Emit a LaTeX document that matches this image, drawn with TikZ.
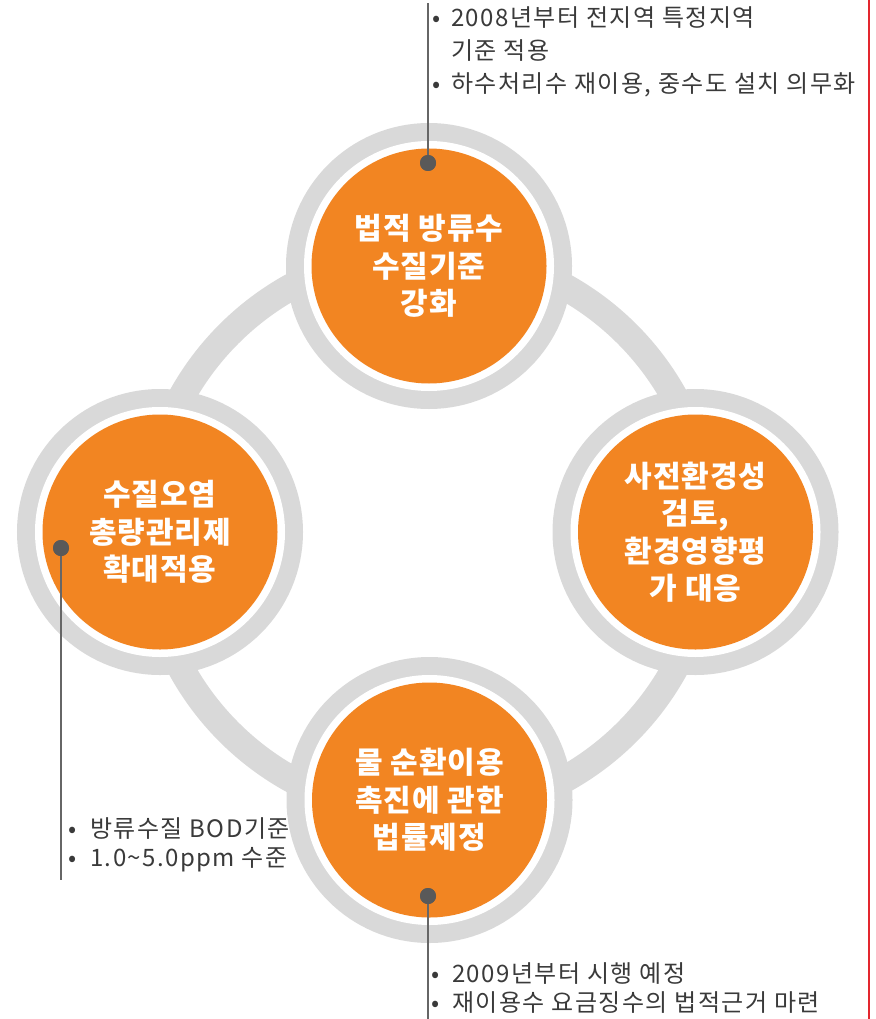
\documentclass[tikz,border=0pt]{standalone}
\usepackage{fontspec}
\setmainfont{Noto Sans CJK KR}
\newfontfamily\notefont[LetterSpace=6]{Noto Sans CJK KR}
\newfontfamily\bubfont[LetterSpace=3]{Noto Sans CJK KR}
\definecolor{org}{HTML}{F28522}
\definecolor{ringgray}{HTML}{D9D9D9}
\definecolor{dotgray}{HTML}{595959}
\definecolor{leadgray}{HTML}{666666}
\definecolor{txtgray}{HTML}{3A3A3A}
\definecolor{redline}{HTML}{E3262E}
\begin{document}
\begin{tikzpicture}[x=1pt,y=-1pt,
  bubble/.style={circle, minimum size=235pt, inner sep=0pt, fill=org,
    preaction={draw=ringgray, line width=51pt},
    preaction={draw=white, line width=15pt},
    text=white, align=center, font=\bubfont\fontsize{30}{37.5}\selectfont\bfseries},
  dot/.style={circle, fill=dotgray, minimum size=16pt, inner sep=0pt},
  lead/.style={draw=leadgray, line width=1.6pt},
  note/.style={anchor=base west, inner sep=0pt, text=txtgray, font=\notefont\fontsize{24}{32}\selectfont},
  bul/.style={anchor=base, inner sep=0pt, text=txtgray, font=\notefont\fontsize{24}{32}\selectfont}]
\useasboundingbox (0,0) rectangle (875,1019);
% connecting ring
\draw[ringgray, line width=27pt] (428,533) circle[radius=281.5];
% bubbles
\node[bubble] (top) at (429,266) {법적 방류수\\수질기준\\강화};
\node[bubble] (left) at (160,532) {수질오염\\총량관리제\\확대적용};
\node[bubble] (right) at (695.5,532) {사전환경성\\검토,\\환경영향평\\가 대응};
\node[bubble] (bottom) at (429.5,800) {물 순환이용\\촉진에 관한\\법률제정};
% leaders
\coordinate (tend) at (428,3);
\coordinate (lend) at (61,880);
\coordinate (bend) at (428,1019);
\node[dot] (tdot) at (428,163) {};
\node[dot] (ldot) at (61,548) {};
\node[dot] (bdot) at (428,896) {};
\draw[lead] (tdot.center) -- (tend);
\draw[lead] (ldot.center) -- (lend);
\draw[lead] (bdot.center) -- (bend);
\node[dot] at (tdot) {};
\node[dot] at (ldot) {};
\node[dot] at (bdot) {};
% top notes
\node[bul] (tb1) at (437,27) {•};
\node[note] (t1) at (451,27) {2008년부터 전지역 특정지역};
\node[note] (t2) at (451,60) {기준 적용};
\node[bul] (tb3) at (437,93) {•};
\node[note] (t3) at (451,93) {하수처리수 재이용, 중수도 설치 의무화};
% left notes
\node[bul] (lb1) at (73,837) {•};
\node[note] (l1) at (90,837) {방류수질 BOD기준};
\node[bul] (lb2) at (73,866) {•};
\node[note] (l2) at (90,866) {1.0\textasciitilde 5.0ppm 수준};
% bottom notes
\node[bul] (bb1) at (436,982) {•};
\node[note] (b1) at (452,982) {2009년부터 시행 예정};
\node[bul] (bb2) at (436,1011) {•};
\node[note] (b2) at (452,1011) {재이용수 요금징수의 법적근거 마련};
% red line
\coordinate (r1) at (869,0);
\coordinate (r2) at (869,1019);
\draw[redline, line width=2pt] (r1) -- (r2);
\end{tikzpicture}
\end{document}
